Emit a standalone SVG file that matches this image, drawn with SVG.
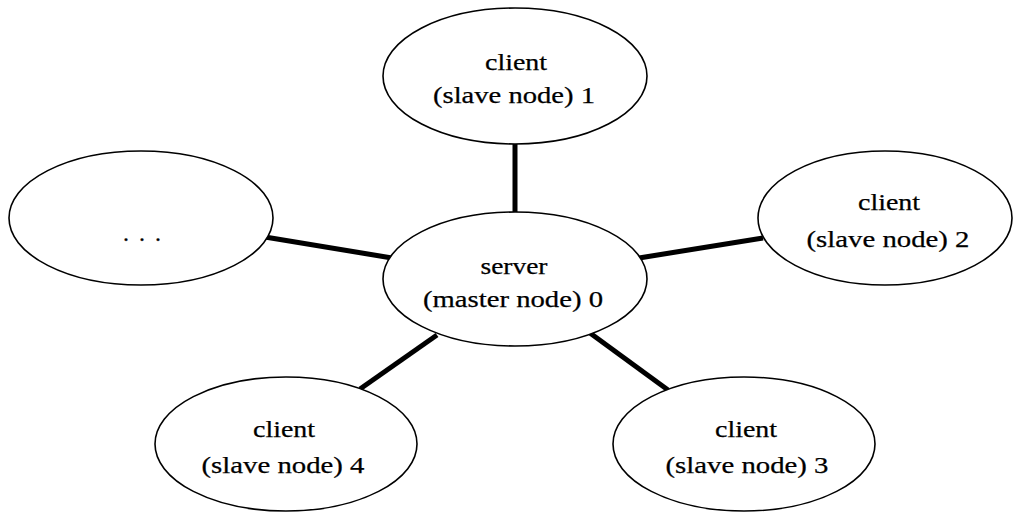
<svg xmlns="http://www.w3.org/2000/svg" width="1013" height="512" viewBox="0 0 1013 512">
<style>
.node{fill:#fff;stroke:#000;stroke-width:1.6}
.edge{stroke:#000;stroke-width:5;fill:none}
text{font-family:"Liberation Serif","Times New Roman",serif;font-size:24px;fill:#000;stroke:#000;stroke-width:0.25;text-anchor:middle}
</style>
<rect width="1013" height="512" fill="#fff"/>
<g id="connectors">
<line class="edge" x1="515" y1="143" x2="515" y2="212"/>
<line class="edge" x1="265" y1="237" x2="392" y2="258"/>
<line class="edge" x1="639" y1="258" x2="763" y2="238"/>
<line class="edge" x1="360" y1="389" x2="437" y2="335"/>
<line class="edge" x1="590" y1="333" x2="668" y2="390"/>
</g>
<g id="client1">
<ellipse class="node" cx="515" cy="76" rx="132" ry="68"/>
<text x="516" y="70" textLength="62" lengthAdjust="spacingAndGlyphs">client</text>
<text x="514" y="103" textLength="162" lengthAdjust="spacingAndGlyphs">(slave node) 1</text>
</g>
<g id="ellipsis">
<ellipse class="node" cx="141" cy="218" rx="132" ry="67"/>
<text x="142" y="241" textLength="38" lengthAdjust="spacing">...</text>
</g>
<g id="server">
<ellipse class="node" cx="515" cy="279" rx="132" ry="67"/>
<text x="514" y="274" textLength="67" lengthAdjust="spacingAndGlyphs">server</text>
<text x="513" y="307" textLength="180" lengthAdjust="spacingAndGlyphs">(master node) 0</text>
</g>
<g id="client2">
<ellipse class="node" cx="885" cy="218" rx="127" ry="67"/>
<text x="889" y="210" textLength="62" lengthAdjust="spacingAndGlyphs">client</text>
<text x="888" y="247" textLength="163" lengthAdjust="spacingAndGlyphs">(slave node) 2</text>
</g>
<g id="client4">
<ellipse class="node" cx="286" cy="444" rx="131" ry="67"/>
<text x="284" y="437" textLength="62" lengthAdjust="spacingAndGlyphs">client</text>
<text x="283" y="473" textLength="163" lengthAdjust="spacingAndGlyphs">(slave node) 4</text>
</g>
<g id="client3">
<ellipse class="node" cx="744" cy="444" rx="131" ry="67"/>
<text x="746" y="437" textLength="62" lengthAdjust="spacingAndGlyphs">client</text>
<text x="747" y="473" textLength="163" lengthAdjust="spacingAndGlyphs">(slave node) 3</text>
</g>
</svg>
